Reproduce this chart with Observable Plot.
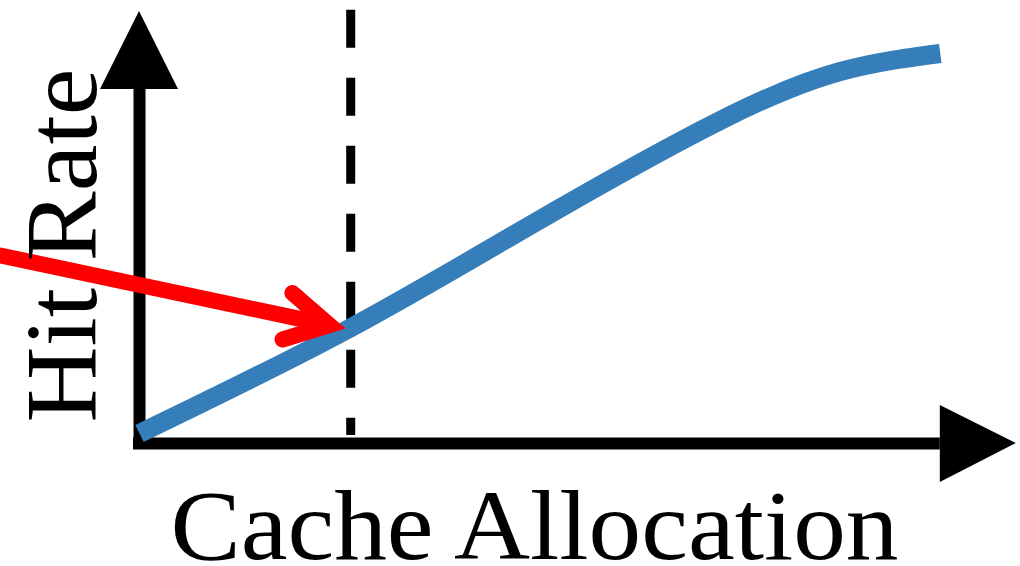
<!DOCTYPE html>
<html>
<head>
<meta charset="utf-8">
<script src="https://cdn.jsdelivr.net/npm/d3@7"></script>
<script src="https://cdn.jsdelivr.net/npm/@observablehq/plot@0.6"></script>
<style>
  html, body { margin: 0; padding: 0; background: #fff; overflow: hidden; }
  #chart svg { display: block; }
</style>
</head>
<body>
<div id="chart"></div>
<script>
// Conceptual curve: cache allocation (x) vs hit rate (y), arbitrary units
const allocation = [0, 26, 50.1, 72.6, 87.6, 100.1];
const hitRate    = [2.5, 28.5, 56, 80.75, 93, 97.5];

// Marked allocation (dashed line) and pointer arrow
const markedAllocation = [26.4];
const pointerStart = [-17.4, 47];
const pointerEnd = [23.74, 29.6];

// Axis extents and labels
const xAxisEnd = 100.1, xAxisTip = 109.6;
const yAxisEnd = 88.5, yAxisTip = 108;
const xLabel = ["Cache Allocation"];
const yLabel = ["Hit Rate"];

const curve = allocation.map((a, i) => ({a, h: hitRate[i]}));

const chart = Plot.plot({
  width: 1020,
  height: 566,
  margin: 0,
  x: {domain: [0, 110], range: [139, 1019], axis: null},
  y: {domain: [0, 108], range: [443, 11], axis: null},
  style: {background: "white"},
  marks: [
    // axes lines
    Plot.ruleY([0], {x1: -0.75, x2: xAxisEnd, stroke: "black", strokeWidth: 12}),
    Plot.ruleX([0], {y1: -1.5, y2: yAxisEnd, stroke: "black", strokeWidth: 12}),
    // arrowheads
    Plot.areaY([{x: xAxisEnd, y1: -9.75, y2: 9.5}, {x: xAxisTip, y1: 0, y2: 0}],
      {x: "x", y1: "y1", y2: "y2", fill: "black"}),
    Plot.areaX([{y: yAxisEnd, x1: -4.875, x2: 4.875}, {y: yAxisTip, x1: 0, x2: 0}],
      {y: "y", x1: "x1", x2: "x2", fill: "black"}),
    // dashed marker
    Plot.ruleX(markedAllocation, {y1: 108.3, y2: 2, stroke: "black", strokeWidth: 9, strokeDasharray: "38,30"}),
    // curve
    Plot.line(curve, {x: "a", y: "h", stroke: "#357eb9", strokeWidth: 19, curve: "natural", strokeLinecap: "butt"}),
    // red pointer arrow
    Plot.arrow([{x1: pointerStart[0], y1: pointerStart[1], x2: pointerEnd[0], y2: pointerEnd[1]}],
      {x1: "x1", y1: "y1", x2: "x2", y2: "y2", stroke: "#ff0000", strokeWidth: 16,
       headAngle: 58, headLength: 4.6, strokeLinecap: "round", strokeLinejoin: "miter", strokeMiterlimit: 10}),
    // labels
    Plot.text(xLabel, {x: 49.375, y: -28.75, text: d => d, lineAnchor: "bottom", textAnchor: "middle",
      fontSize: 99, fontFamily: "Liberation Serif", fill: "black", className: "xlab"}),
    Plot.text(yLabel, {x: -5.5, y: 49.5, text: d => d, rotate: -90, lineAnchor: "bottom", textAnchor: "middle",
      fontSize: 101, fontFamily: "Liberation Serif", fill: "black", className: "ylab"})
  ]
});

document.getElementById("chart").appendChild(chart);

// stretch labels to the reference widths
d3.select(chart).selectAll("g.xlab text").attr("textLength", 728).attr("lengthAdjust", "spacingAndGlyphs");
d3.select(chart).selectAll("g.ylab text").attr("textLength", 354).attr("lengthAdjust", "spacingAndGlyphs");
</script>
</body>
</html>
